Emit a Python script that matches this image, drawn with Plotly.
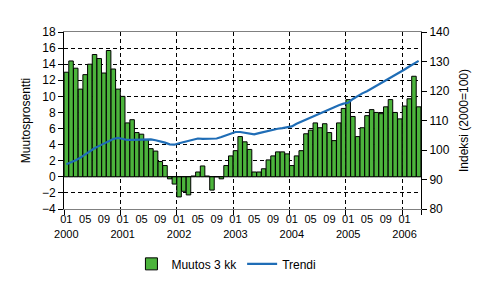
import plotly.graph_objects as go

years = ["2000", "2001", "2002", "2003", "2004", "2005", "2006"]
month_codes = ["01", "02", "03", "04", "05", "06", "07", "08", "09", "10", "11", "12"]

change_2000 = [13.0, 14.4, 13.5, 10.9, 12.7, 14.0, 15.2, 14.7, 12.9, 15.7, 13.4, 10.9]
change_2001 = [10.0, 6.7, 7.1, 5.5, 5.3, 4.6, 3.5, 3.2, 1.9, 1.4, -0.25, -0.9]
change_2002 = [-2.5, -1.8, -2.25, 0.1, 0.6, 1.35, 0.1, -1.65, 0.0, -0.25, 1.4, 2.6]
change_2003 = [3.25, 5.0, 4.35, 3.4, 0.6, 0.6, 1.0, 2.1, 2.6, 3.1, 3.1, 2.85]
change_2004 = [1.4, 2.6, 3.25, 5.35, 5.8, 6.7, 6.1, 6.6, 5.5, 4.5, 6.7, 8.5]
change_2005 = [9.6, 7.5, 5.0, 6.1, 7.6, 8.35, 8.0, 7.85, 8.7, 9.6, 8.0, 7.2]
change_2006 = [8.8, 9.7, 12.5, 8.7]

trend_2000 = [95.2, 95.8, 96.5, 97.4, 98.5, 99.7, 100.6, 101.4, 102.2, 103.0, 103.75, 104.1]
trend_2001 = [103.8, 103.4, 103.4, 103.4, 103.5, 103.6, 103.6, 103.3, 103.0, 102.5, 101.9, 101.8]
trend_2002 = [102.3, 102.7, 103.2, 103.6, 103.9, 103.75, 103.75, 103.75, 103.9, 104.4, 105.0, 105.7]
trend_2003 = [106.1, 106.1, 105.9, 105.5, 105.3, 105.7, 106.1, 106.6, 106.9, 107.2, 107.4, 107.6]
trend_2004 = [108.0, 108.9, 109.6, 110.3, 111.1, 111.8, 112.4, 113.2, 114.0, 114.7, 115.2, 115.7]
trend_2005 = [116.0, 117.3, 118.4, 119.2, 119.9, 120.8, 121.7, 122.6, 123.5, 124.4, 125.5, 126.4]
trend_2006 = [127.3, 128.3, 129.3, 130.2]

change = change_2000 + change_2001 + change_2002 + change_2003 + change_2004 + change_2005 + change_2006
trend = trend_2000 + trend_2001 + trend_2002 + trend_2003 + trend_2004 + trend_2005 + trend_2006
months = [f"{y}-{m}" for y in years for m in month_codes][:len(change)]

tick_months = ["01", "05", "09"]
tickvals = [m for m in months if m[5:] in tick_months]
ticktext = [(m[5:] + "<br>" + m[:4]) if m[5:] == "01" else m[5:] for m in tickvals]
year_bounds = [i - 0.5 for i, m in enumerate(months) if m[5:] == "01"] + [len(months) - 0.5]

FONT = "Liberation Sans, Arial, sans-serif"
n = len(months)

fig = go.Figure()
fig.add_trace(go.Bar(
    x=months, y=change, name="Muutos 3 kk",
    marker=dict(color="#4cb43c", line=dict(color="black", width=1)),
    xaxis="x", yaxis="y",
))
fig.add_trace(go.Scatter(
    x=[], y=[], mode="lines", showlegend=False, hoverinfo="skip",
    xaxis="x2", yaxis="y",
))
fig.add_trace(go.Scatter(
    x=months, y=trend, name="Trendi", mode="lines",
    line=dict(color="#1f6db6", width=2.2),
    xaxis="x", yaxis="y2",
))

fig.update_layout(
    width=486, height=292,
    margin=dict(l=64, r=65, t=32, b=83),
    paper_bgcolor="white", plot_bgcolor="white",
    font=dict(family=FONT, size=11, color="black"),
    bargap=0.04,
    showlegend=True,
    legend=dict(orientation="h", x=0.455, y=-0.31, xanchor="center", yanchor="middle",
                font=dict(size=12), itemwidth=30, bgcolor="rgba(0,0,0,0)",
                tracegroupgap=0),
    xaxis=dict(
        type="category", range=[-0.5, n - 0.5],
        tickmode="array", tickvals=tickvals, ticktext=ticktext, tickangle=0,
        ticks="", showgrid=False, showline=True, linecolor="#808080",
        linewidth=1, mirror=True, zeroline=False,
        tickfont=dict(size=11),
    ),
    xaxis2=dict(
        overlaying="x", anchor="y", type="linear", range=[-0.5, n - 0.5],
        tickmode="array", tickvals=year_bounds, showticklabels=False,
        ticks="outside", ticklen=5, tickcolor="black", tickwidth=1,
        showgrid=True, gridcolor="black", griddash="4px,3px", gridwidth=1,
        showline=False, zeroline=False,
    ),
    yaxis=dict(
        range=[-4, 18], dtick=2, tick0=0,
        ticks="outside", ticklen=5, tickcolor="black",
        showline=True, linecolor="black", linewidth=1,
        showgrid=True, gridcolor="black", griddash="4px,3px", gridwidth=1,
        zeroline=True, zerolinecolor="black", zerolinewidth=1,
        title=dict(text="Muutosprosentti", standoff=8, font=dict(size=12)),
        tickfont=dict(size=12),
    ),
    yaxis2=dict(
        overlaying="y", side="right", anchor="x", range=[80, 140], dtick=10,
        ticks="outside", ticklen=5, tickcolor="black",
        showline=True, linecolor="black", linewidth=1,
        showgrid=False, zeroline=False,
        title=dict(text="Indeksi (2000=100)", standoff=10, font=dict(size=12)),
        tickfont=dict(size=12),
    ),
    yaxis3=dict(
        overlaying="y", side="left", anchor="x", range=[-4, 18], dtick=2, tick0=0,
        ticks="inside", ticklen=5, tickcolor="black", showticklabels=False,
        showgrid=False, zeroline=False, showline=False,
    ),
    yaxis4=dict(
        overlaying="y", side="right", anchor="x", range=[80, 140], dtick=10,
        ticks="inside", ticklen=5, tickcolor="black", showticklabels=False,
        showgrid=False, zeroline=False, showline=False,
    ),
)

fig.write_html("out.html")
